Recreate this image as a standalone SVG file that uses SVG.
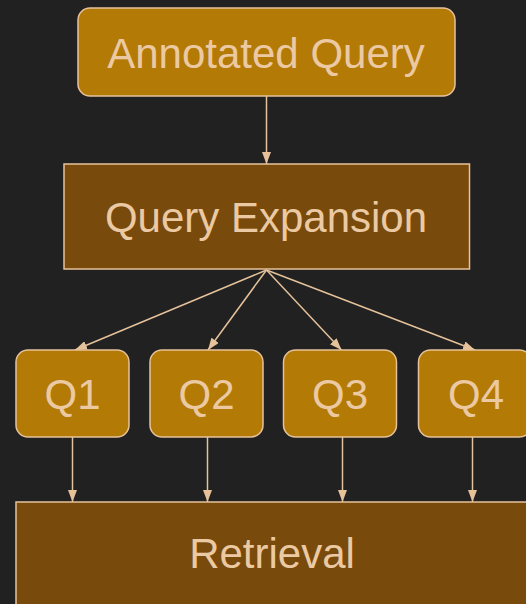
<svg xmlns="http://www.w3.org/2000/svg" width="526" height="604" viewBox="0 0 526 604">
<defs>
<style>
.lt{fill:#b37a06;stroke:#e6c29a;stroke-width:1.5}
.dk{fill:#784a0c;stroke:#e6c29a;stroke-width:1.5}
.t{font-family:"Liberation Sans",Arial,sans-serif;font-size:42px;fill:#ebc9a3;text-anchor:middle}
.c{stroke:#e6c29a;stroke-width:1.5;fill:none;marker-end:url(#ah)}
</style>
<marker id="ah" viewBox="0 0 12 9" refX="12" refY="4.5" markerWidth="12" markerHeight="9" markerUnits="userSpaceOnUse" orient="auto">
<path d="M0,0 L12,4.5 L0,9 z" fill="#e6c29a"/>
</marker>
</defs>
<rect width="526" height="604" fill="#212121"/>
<g id="connectors">
<line class="c" x1="266.5" y1="96" x2="266.5" y2="164"/>
<line class="c" x1="266.5" y1="270" x2="75" y2="350"/>
<line class="c" x1="266.5" y1="270" x2="208" y2="350"/>
<line class="c" x1="266.5" y1="270" x2="341.5" y2="350"/>
<line class="c" x1="266.5" y1="270" x2="475" y2="350"/>
<line class="c" x1="72.5" y1="437" x2="72.5" y2="502"/>
<line class="c" x1="207.5" y1="437" x2="207.5" y2="502"/>
<line class="c" x1="342.5" y1="437" x2="342.5" y2="502"/>
<line class="c" x1="472.5" y1="437" x2="472.5" y2="502"/>
</g>
<g id="annotated-query">
<rect class="lt" x="78" y="8" width="377" height="88" rx="12"/>
<text class="t" x="266" y="68">Annotated Query</text>
</g>
<g id="query-expansion">
<rect class="dk" x="64" y="164" width="405.5" height="105"/>
<text class="t" x="266" y="232">Query Expansion</text>
</g>
<g id="q1">
<rect class="lt" x="16" y="350" width="113" height="87" rx="12"/>
<text class="t" x="72.5" y="409">Q1</text>
</g>
<g id="q2">
<rect class="lt" x="150" y="350" width="113" height="87" rx="12"/>
<text class="t" x="206.5" y="409">Q2</text>
</g>
<g id="q3">
<rect class="lt" x="283.5" y="350" width="113" height="87" rx="12"/>
<text class="t" x="340" y="409">Q3</text>
</g>
<g id="q4">
<rect class="lt" x="418.5" y="350" width="113" height="87" rx="12"/>
<text class="t" x="476" y="409">Q4</text>
</g>
<g id="retrieval">
<rect class="dk" x="16" y="502" width="530" height="120"/>
<text class="t" x="272" y="568">Retrieval</text>
</g>
</svg>
